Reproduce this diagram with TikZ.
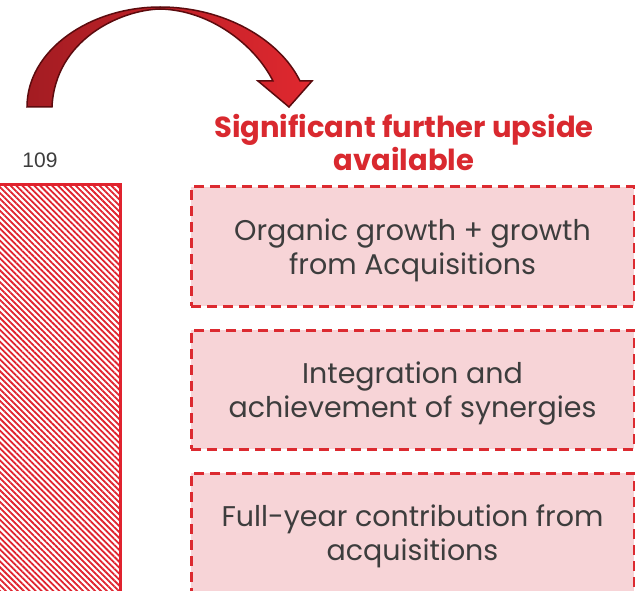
\documentclass[tikz,border=0pt]{standalone}
\usepackage{fontspec}
\setmainfont{Poppins}
\newfontfamily\numfont{Liberation Sans}
\usepackage{tikz}
\usetikzlibrary{positioning,patterns.meta}
\definecolor{upred}{HTML}{D9292F}
\definecolor{leverline}{HTML}{DC2A30}
\definecolor{leverfill}{HTML}{F7D4D7}
\definecolor{textgray}{HTML}{3D3D3D}
\definecolor{barred}{HTML}{E0232E}
\definecolor{arrowdark}{HTML}{A31C22}
\definecolor{arrowlight}{HTML}{E0282F}
\definecolor{arrowline}{HTML}{5C0B0E}
\tikzstyle{lever} = [rectangle, draw=leverline, fill=leverfill, line width=3pt, dash pattern=on 10pt off 6pt, minimum width=443pt, minimum height=119pt, text=textgray, align=center, font=\fontsize{28.5}{34}\selectfont]
\tikzstyle{upside} = [text=upred, align=center, font=\bfseries\fontsize{29}{33}\selectfont]
\newcommand{\leverstrut}{\rule{0pt}{30pt}}

\begin{document}
\begin{tikzpicture}[x=1pt,y=-1pt,node distance=143pt]
  \useasboundingbox (0,0) rectangle (635,591);
  % hatched bar
  \fill[pattern={Lines[angle=-45,distance=4.2pt,line width=1.8pt]}, pattern color=barred] (-5,185) rectangle (120,600);
  \draw[barred, line width=3pt] (-5,185) -- (120,185) -- (120,600);
  \node[text=textgray, font=\numfont\fontsize{21}{21}\selectfont] (val) at (40,160) {109};
  % curved arrow
  \shade[left color=arrowdark, right color=arrowlight, draw=arrowline, line width=1.5pt]
    (27,107) .. controls (27,50) and (90,7) .. (160,7)
    .. controls (225,7) and (280,40) .. (300,81)
    -- (312,81) -- (289,107) -- (258,81) -- (273,81)
    .. controls (255,45) and (210,10) .. (160,9)
    .. controls (120,10) and (55,40) .. (52,107) -- cycle;
  \node[upside] (upside) at (404,143) {Significant further upside\\available};
  \node[lever] (organic) at (412.5,246.5) {\leverstrut Organic growth + growth\\from Acquisitions};
  \node[lever] (synergy) [below of=organic] {\leverstrut Integration and\\achievement of synergies};
  \node[lever] (fullyear) [below of=synergy] {\leverstrut Full-year contribution from\\acquisitions};
\end{tikzpicture}
\end{document}
